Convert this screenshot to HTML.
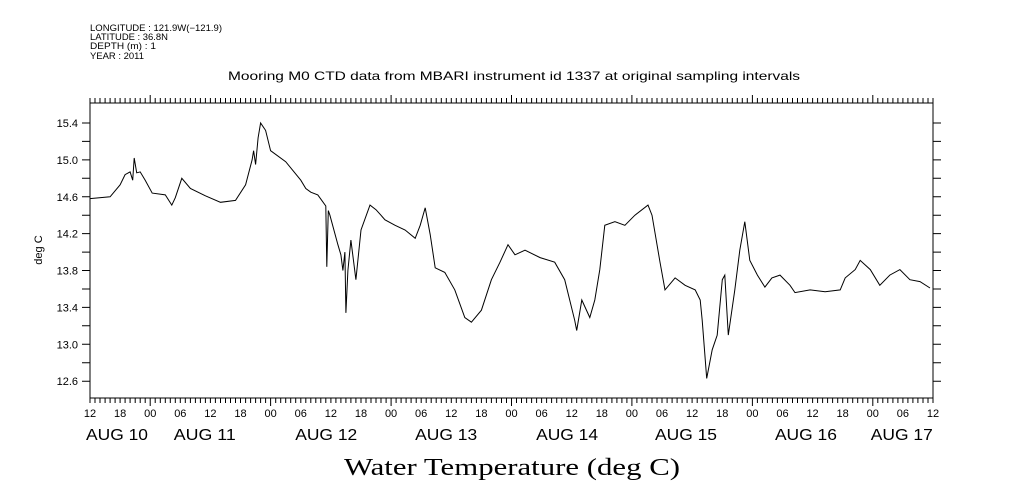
<!DOCTYPE html>
<html><head><meta charset="utf-8"><style>
body{margin:0;background:#fff;}
svg{display:block;font-family:"Liberation Sans",sans-serif;}
</style></head><body>
<svg id="chart" width="1009" height="504" xmlns="http://www.w3.org/2000/svg">
<g font-size="9" fill="#000">
<text x="90" y="31" textLength="132" lengthAdjust="spacingAndGlyphs">LONGITUDE : 121.9W(−121.9)</text>
<text x="90" y="40" textLength="78" lengthAdjust="spacingAndGlyphs">LATITUDE : 36.8N</text>
<text x="90" y="49" textLength="66" lengthAdjust="spacingAndGlyphs">DEPTH (m) : 1</text>
<text x="90" y="59" textLength="54" lengthAdjust="spacingAndGlyphs">YEAR : 2011</text>
</g>
<text x="228" y="80" font-size="12" textLength="572" lengthAdjust="spacingAndGlyphs">Mooring M0 CTD data from MBARI instrument id 1337 at original sampling intervals</text>
<text x="42" y="250" font-size="11" text-anchor="middle" transform="rotate(-90 42 250)">deg C</text>
<text x="344" y="475" font-size="24" font-family="Liberation Serif, serif" textLength="336" lengthAdjust="spacingAndGlyphs">Water Temperature (deg C)</text>
<g id="axes"></g>
<path id="series" fill="none" stroke="#000" stroke-width="1"/>
</svg>
<script>
const hours=[0,4,6,7,8,8.5,8.8,9.3,10,11,12.4,15,16.3,17,18.3,20,23,26,29,31,32.3,32.6,33,33.5,34,35,36,39,42,43,44,45.4,46.2,47,47.2,47.5,47.8,49.4,50,50.4,50.8,51,51.4,52,53,54,55.8,57,58.8,60.8,62.8,64.8,65.8,66.8,67.8,68.8,70.7,72.7,74.7,76,78,80,81.7,83.3,84.7,86.7,89.7,92.6,94.6,95.6,96.6,97,98,99.6,100.6,101.6,102.6,104.6,106.6,108.6,111.2,112,113.6,114.6,116.6,118.6,120.6,121.6,122,122.9,124,125,126,126.5,127.2,128.5,129.5,130.5,131.5,133,134.5,135.9,137.5,139.5,140.5,143.5,146.5,149.5,150.5,152.5,153.5,155.5,157.4,159.4,161.4,163.4,165.4,167.4];
const temps=[14.58,14.6,14.73,14.84,14.87,14.78,15.02,14.86,14.87,14.78,14.64,14.62,14.51,14.59,14.8,14.69,14.61,14.54,14.56,14.73,15.0,15.1,14.95,15.24,15.40,15.32,15.1,14.98,14.78,14.69,14.65,14.62,14.56,14.5,13.84,14.45,14.4,14.08,13.97,13.8,14.0,13.34,13.8,14.13,13.7,14.24,14.51,14.46,14.35,14.29,14.24,14.15,14.29,14.48,14.19,13.83,13.78,13.59,13.29,13.24,13.37,13.7,13.89,14.08,13.97,14.02,13.94,13.89,13.7,13.48,13.26,13.15,13.48,13.29,13.48,13.81,14.29,14.33,14.29,14.4,14.51,14.4,13.89,13.59,13.72,13.64,13.59,13.48,13.26,12.63,12.94,13.1,13.7,13.75,13.1,13.59,14.02,14.33,13.91,13.75,13.62,13.72,13.75,13.64,13.56,13.59,13.57,13.59,13.72,13.81,13.91,13.81,13.64,13.75,13.81,13.7,13.68,13.61];
const yTicks=[12.6,13.0,13.4,13.8,14.2,14.6,15.0,15.4];
const hourLabels=["12","18","00","06","12","18","00","06","12","18","00","06","12","18","00","06","12","18","00","06","12","18","00","06","12","18","00","06","12"];
const dayLabels=["AUG 10","AUG 11","AUG 12","AUG 13","AUG 14","AUG 15","AUG 16","AUG 17"];
const dayLabelHours=[-0.8,16.7,40.9,64.8,88.9,112.6,136.5,155.6];

const L=90,R=933,T=103,B=398,H0=168;
const xs=h=>L+h*(R-L)/H0;
const ys=v=>123+(15.4-v)*92.2;
const NS="http://www.w3.org/2000/svg";
const ax=document.getElementById('axes');
function el(tag,attrs,txt){const e=document.createElementNS(NS,tag);for(const k in attrs)e.setAttribute(k,attrs[k]);if(txt!==undefined)e.textContent=txt;ax.appendChild(e);return e;}
let d=`M${L},${T}H${R}V${B}H${L}Z`;
for(let h=0;h<=H0;h++){const x=xs(h).toFixed(1);const big=((h+12)%24===0);const len=big?8:5;
 d+=`M${x},${B}V${B+len}M${x},${T}V${T-len}`;}
for(let v=12.6;v<=15.41;v+=0.2){const y=ys(v).toFixed(1);d+=`M${L},${y}H${L-8}M${R},${y}H${R+8}`;}
const frame=el('path',{d:d,stroke:'#000','stroke-width':1,fill:'none'});


yTicks.forEach(v=>{const t=el('text',{x:L-12,y:ys(v)+4,'font-size':11,'text-anchor':'end'},v.toFixed(1));
 
 });
hourLabels.forEach((s,i)=>{const t=el('text',{x:xs(i*6),y:417,'font-size':11,'text-anchor':'middle'},s);
 
 });
dayLabels.forEach((s,i)=>{const t=el('text',{x:xs(dayLabelHours[i]),y:440,'font-size':16,textLength:62,lengthAdjust:'spacingAndGlyphs'},s);
 
 });
document.getElementById('series').setAttribute('d',hours.map((h,i)=>(i?'L':'M')+xs(h).toFixed(1)+','+ys(temps[i]).toFixed(1)).join(''));
</script>
</body></html>
